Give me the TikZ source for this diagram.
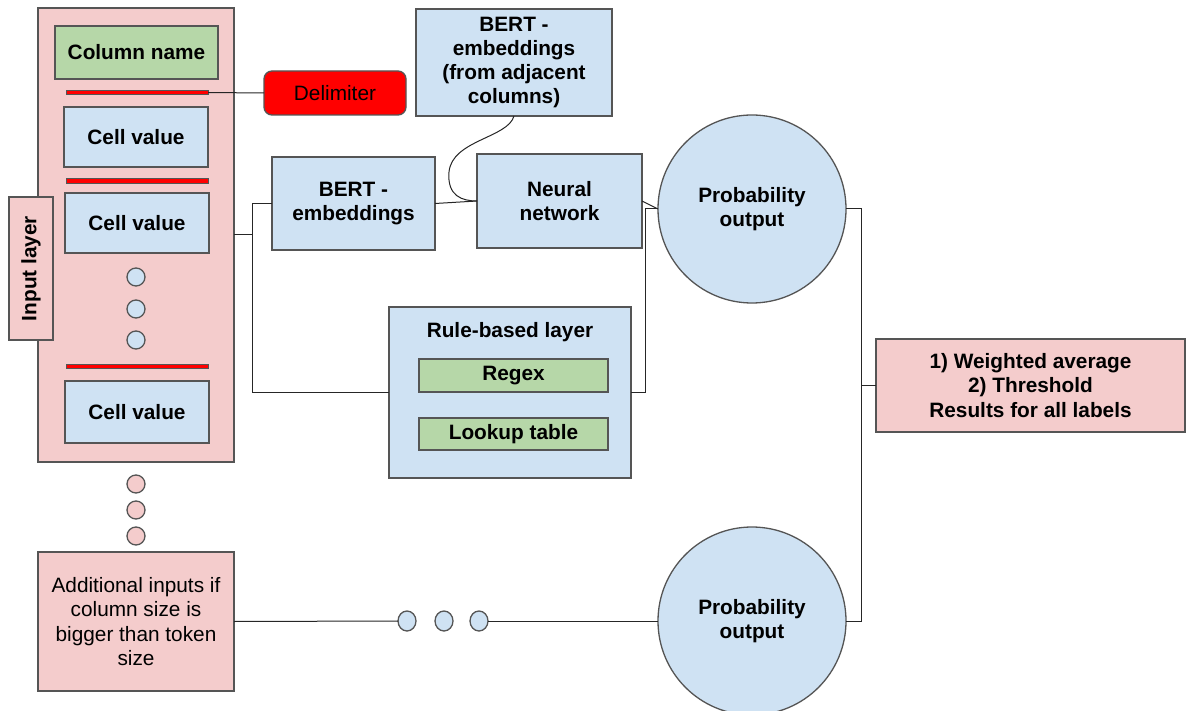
\documentclass[tikz,border=0pt]{standalone}
\usepackage{fontspec}
\setmainfont{Liberation Sans}
\definecolor{pinkf}{HTML}{F4CCCC}
\definecolor{bluef}{HTML}{CFE2F3}
\definecolor{greenf}{HTML}{B6D7A8}
\definecolor{redf}{HTML}{FF0000}
\definecolor{edge}{HTML}{555555}
\tikzset{
  box/.style={draw=edge, line width=1.3pt, rectangle, inner sep=0pt, outer sep=0pt, align=center,
    font=\fontsize{20.8}{24.3}\selectfont\bfseries},
  pinkbox/.style={box, fill=pinkf},
  bluebox/.style={box, fill=bluef},
  greenbox/.style={box, fill=greenf},
  delimline/.style={draw=edge, line width=0.8pt, fill=redf, rectangle, inner sep=0pt, outer sep=0pt,
    minimum width=142pt, minimum height=4.5pt},
  dot/.style={draw=edge, line width=1.3pt, circle, inner sep=0pt, outer sep=0pt, minimum size=18pt},
  hdot/.style={draw=edge, line width=1.3pt, ellipse, inner sep=0pt, outer sep=0pt, minimum width=18pt, minimum height=20pt, fill=bluef},
  conn/.style={draw=black!85, line width=1pt},
  plain/.style={font=\fontsize{20.8}{24.3}\selectfont}
}
\usetikzlibrary{shapes.geometric}
\begin{document}
\begin{tikzpicture}[x=1pt,y=-1pt]
\useasboundingbox (0,0) rectangle (1186,711);
% input layer
\node[pinkbox, minimum width=196pt, minimum height=454pt] (inp) at (136,235) {};
\node[pinkbox, minimum width=143pt, minimum height=44pt, rotate=90] (inlab) at (31,268.5) {Input layer};
\node[greenbox, minimum width=163pt, minimum height=53pt] (colname) at (136.5,52.5) {Column name};
\node[delimline] (d1) at (137,92.5) {};
\node[bluebox, minimum width=144pt, minimum height=60pt] (cell1) at (136,137) {Cell value};
\node[delimline] (d2) at (137,181) {};
\node[bluebox, minimum width=144pt, minimum height=60pt] (cell2) at (137,223) {Cell value};
\node[dot, fill=bluef] (bd1) at (136,277) {};
\node[dot, fill=bluef] (bd2) at (136,309) {};
\node[dot, fill=bluef] (bd3) at (136,340) {};
\node[delimline] (d3) at (137,366.5) {};
\node[bluebox, minimum width=144pt, minimum height=62pt] (cell3) at (137,412) {Cell value};
\node[dot, fill=pinkf] (pd1) at (136,484) {};
\node[dot, fill=pinkf] (pd2) at (136,510) {};
\node[dot, fill=pinkf] (pd3) at (136,536) {};
\node[pinkbox, minimum width=196pt, minimum height=139pt, font=\fontsize{20.8}{24.3}\selectfont] (add) at (136,621.5) {Additional inputs if\\column size is\\bigger than token\\size};
% delimiter
\node[box, fill=redf, rounded corners=8pt, minimum width=142pt, minimum height=44pt, font=\fontsize{20.8}{24.3}\selectfont] (delim) at (335,93) {Delimiter};
% BERT and NN
\node[bluebox, minimum width=196pt, minimum height=107pt] (bert2) at (514,62.5) {BERT -\\embeddings\\(from adjacent\\columns)};
\node[bluebox, minimum width=163pt, minimum height=93pt] (bert1) at (353.5,203.5) {BERT -\\embeddings};
\node[bluebox, minimum width=165pt, minimum height=94pt] (nn) at (559.5,201) {Neural\\network};
% rule-based
\node[bluebox, minimum width=242pt, minimum height=171pt] (rule) at (510,392.5) {};
\node[font=\fontsize{20.8}{24.3}\selectfont\bfseries, inner sep=0pt] (ruletitle) at (510,332) {Rule-based layer};
\node[greenbox, minimum width=189pt, minimum height=33pt] (regex) at (513.5,375.5) {Regex};
\node[greenbox, minimum width=189pt, minimum height=32pt] (lookup) at (513.5,434) {Lookup table};
% outputs
\node[bluebox, circle, minimum size=188pt] (p1) at (752,209) {Probability\\output};
\node[bluebox, circle, minimum size=188pt] (p2) at (752,621) {Probability\\output};
\node[pinkbox, minimum width=309pt, minimum height=93pt] (wavg) at (1030.5,385.5) {1) Weighted average\\2) Threshold\\Results for all labels};
% horizontal dots
\node[hdot] (hd1) at (407,621) {};
\node[hdot] (hd2) at (444,621) {};
\node[hdot] (hd3) at (479,621) {};
% connectors
\draw[conn] (d1.east) -- (delim.west);
\coordinate (j1) at (252,235);
\draw[conn] (inp.east |- j1) -- (j1) |- (bert1.west);
\draw[conn] (j1) |- (rule.west);
\draw[conn] (bert1.east) -- (nn.west);
\draw[conn] (bert2.south) .. controls (508,138) and (452,140) .. (449,172) .. controls (447,196) and (462,201) .. (nn.west);
\draw[conn] (nn.east) -- (p1.west);
\coordinate (j2) at (645,209);
\draw[conn] (rule.east) -| (j2) -- (p1.west);
\coordinate (j3) at (861,385.5);
\draw[conn] (p1.east) -| (j3) |- (p2.east);
\draw[conn] (wavg.west) -- (j3);
\draw[conn] (add.east) -- (hd1.west);
\draw[conn] (hd3.east) -- (p2.west);
\end{tikzpicture}
\end{document}
